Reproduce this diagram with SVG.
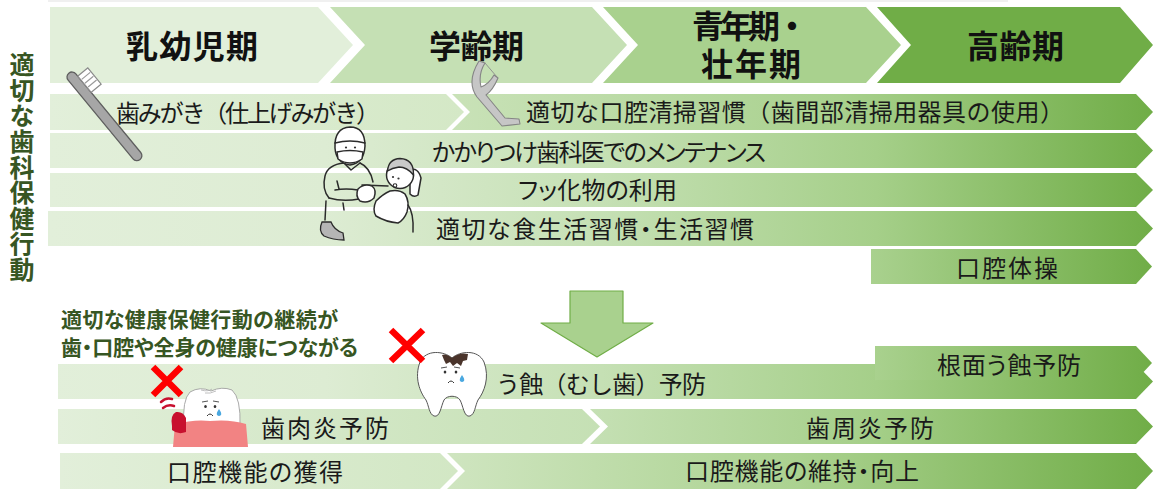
<svg xmlns="http://www.w3.org/2000/svg" width="1154" height="489" viewBox="0 0 1154 489">
<defs>
<style>
text{font-family:"Noto Sans CJK JP","Noto Sans",sans-serif}
.hd{font-size:32px;font-weight:700;fill:#111}
.rt{font-size:24px;fill:#1a1a1a;font-feature-settings:"palt"}
.fw{font-feature-settings:normal}
.gt{font-size:21px;font-weight:700;fill:#375623;font-feature-settings:"palt"}
.vt{font-size:25px;font-weight:700;fill:#375623;writing-mode:vertical-rl}
.ln{fill:none;stroke:#2b2b2b;stroke-width:1.5;stroke-linecap:round;stroke-linejoin:round}
.wf{fill:#fff;stroke:#2b2b2b;stroke-width:1.5;stroke-linejoin:round}
.xm{stroke:#ff0000;stroke-width:6.5;fill:none}
.face{fill:#333}
.tear{fill:#4aa8e0}
</style>
<linearGradient id="gFull" gradientUnits="userSpaceOnUse" x1="50" y1="0" x2="1153" y2="0">
<stop offset="0" stop-color="#e2efda"/><stop offset="0.25" stop-color="#ddecd3"/><stop offset="0.5" stop-color="#c5e0b4"/><stop offset="0.75" stop-color="#a5cf89"/><stop offset="1" stop-color="#70ad47"/>
</linearGradient>
<linearGradient id="gR1L" gradientUnits="userSpaceOnUse" x1="50" y1="0" x2="464" y2="0">
<stop offset="0" stop-color="#e2efda"/><stop offset="1" stop-color="#d4e8c6"/>
</linearGradient>
<linearGradient id="gR1R" gradientUnits="userSpaceOnUse" x1="452" y1="0" x2="1153" y2="0">
<stop offset="0" stop-color="#c9e2b8"/><stop offset="0.55" stop-color="#a9d18e"/><stop offset="1" stop-color="#70ad47"/>
</linearGradient>
<linearGradient id="gShort" x1="0" y1="0" x2="1" y2="0">
<stop offset="0" stop-color="#a9d18e"/><stop offset="1" stop-color="#70ad47"/>
</linearGradient>
<linearGradient id="gBL" gradientUnits="userSpaceOnUse" x1="58" y1="0" x2="600" y2="0">
<stop offset="0" stop-color="#e2efda"/><stop offset="1" stop-color="#c5e0b4"/>
</linearGradient>
<linearGradient id="gBR" gradientUnits="userSpaceOnUse" x1="590" y1="0" x2="1153" y2="0">
<stop offset="0" stop-color="#c5e0b4"/><stop offset="0.5" stop-color="#a5cf89"/><stop offset="1" stop-color="#70ad47"/>
</linearGradient>
<linearGradient id="gCL" gradientUnits="userSpaceOnUse" x1="60" y1="0" x2="458" y2="0">
<stop offset="0" stop-color="#e2efda"/><stop offset="1" stop-color="#d2e7c4"/>
</linearGradient>
<linearGradient id="gCR" gradientUnits="userSpaceOnUse" x1="447" y1="0" x2="1153" y2="0">
<stop offset="0" stop-color="#cfe5c0"/><stop offset="0.5" stop-color="#abd290"/><stop offset="1" stop-color="#70ad47"/>
</linearGradient>
</defs>

<rect x="48" y="0" width="960" height="2" fill="#f0f0f0"/>

<!-- life stage chevrons -->
<g id="stage-infant">
<path d="M50 7H318L353 45L318 83H50Z" fill="#e2efda"/>
<text class="hd" x="126" y="58" textLength="132">乳幼児期</text>
</g>
<g id="stage-school">
<path d="M330 7H592L627 45L592 83H330L365 45Z" fill="#c5e0b4"/>
<text class="hd" x="429" y="58" textLength="95">学齢期</text>
</g>
<g id="stage-adult">
<path d="M603 7H866L901 45L866 83H603L638 45Z" fill="#a9d18e"/>
<text class="hd"><tspan x="692" y="38" textLength="116">青年期・</tspan><tspan x="701" y="76" textLength="100">壮年期</tspan></text>
</g>
<g id="stage-elderly">
<path d="M877 7H1120L1153 45L1120 83H877L911 45Z" fill="#70ad47"/>
<text class="hd" x="967" y="58" textLength="97">高齢期</text>
</g>

<!-- side caption, set vertically -->
<g id="side-caption">
<text class="vt" x="22" y="52" textLength="230">適切な歯科保健行動</text>
</g>

<!-- behaviour bars -->
<g id="bar-brushing">
<path d="M50 94H446L464 112L446 130H50Z" fill="url(#gR1L)"/>
<text class="rt fw" x="116" y="121.5" textLength="264">歯みがき（仕上げみがき）</text>
</g>
<g id="bar-cleaning">
<path d="M452 94H1136L1153 112L1136 130H452L470 112Z" fill="url(#gR1R)"/>
<text class="rt fw" x="526" y="121" textLength="538">適切な口腔清掃習慣（歯間部清掃用器具の使用）</text>
</g>
<g id="bar-dentist">
<path d="M50 133H1136L1153 150.5L1136 168H50Z" fill="url(#gFull)"/>
<text class="rt" x="432" y="160.5" textLength="334">かかりつけ歯科医でのメンテナンス</text>
</g>
<g id="bar-fluoride">
<path d="M50 173H1136L1153 190L1136 207H50Z" fill="url(#gFull)"/>
<text class="rt" x="518" y="199" textLength="159">フッ化物の利用</text>
</g>
<g id="bar-diet">
<path d="M48 211H1136L1153 228.5L1136 246H48Z" fill="url(#gFull)"/>
<text class="rt" x="436" y="238" textLength="318">適切な食生活習慣・生活習慣</text>
</g>
<g id="bar-exercise">
<path d="M871 249H1136L1152 266.5L1136 284H871Z" fill="url(#gShort)"/>
<text class="rt" x="956" y="276.5" textLength="102">口腔体操</text>
</g>

<!-- toothbrush -->
<g id="toothbrush" transform="translate(72 77) rotate(50.5)">
<rect x="-5" y="-5" width="112" height="10" rx="5" fill="#a6a6a6" stroke="#5f5f5f" stroke-width="1.3"/>
<rect x="3" y="-18" width="21" height="13" fill="#fff" stroke="#8a8a8a" stroke-width="1.2"/>
<path d="M8 -17V-6M13 -17V-6M18 -17V-6" stroke="#9a9a9a" stroke-width="1.2"/>
</g>

<!-- floss holder -->
<g id="floss-holder">
<path d="M485 63L497 77" stroke="#8a8a8a" stroke-width="0.9"/>
<path d="M479 61L485 63Q478 74 481 87Q489 84 494 75L498 78Q493 90 486 95L505 118L519 119L520 124L502 126L477 97Q466 82 479 61Z" fill="#c6c6c6" stroke="#858585" stroke-width="1.1" stroke-linejoin="round"/>
</g>

<!-- dentist and child -->
<g id="dentist-visit">
<path class="ln" d="M344 163C334 164 327 168 325 176C323 184 324 192 329 198"/>
<path class="ln" d="M329 198Q343 202 359 199M335 190Q346 188 358 190M337 181L339 189"/>
<path class="ln" d="M360 163C367 166 371 172 373 182"/>
<path class="ln" d="M344 163L351 170L360 163"/>
<path class="ln" d="M326 201L325 220M343 203L344 210"/>
<path d="M322 222Q318 231 324 236Q333 240 344 240L343 233Q334 230 331 222Z" fill="#b5b5b5" stroke="#2b2b2b" stroke-width="1.3"/>
<path class="wf" d="M335 148Q334 128 350 127Q365 127 365 146Q364 163 350 165Q336 163 335 148Z"/>
<path class="ln" d="M335 143Q350 139 365 143"/>
<path class="wf" d="M337 152Q350 149 363 152L362 159Q350 167 338 159Z"/>
<circle class="face" cx="346" cy="147.5" r="1.1"/>
<circle class="face" cx="355" cy="147.5" r="1.1"/>
<path class="ln" d="M362 185L388 186"/>
<path class="wf" d="M358 189Q364 183 372 186Q377 190 374 198Q368 204 360 201Q355 196 358 189Z"/>
<path class="wf" d="M410 170Q418 167 421 178L418 195Q414 198 410 194Z"/>
<path class="wf" d="M376 201Q383 194 390 191Q399 189 405 194Q410 202 407 212Q404 220 398 223Q386 222 376 216Q372 210 376 201Z"/>
<path class="ln" d="M408 205Q414 213 413 232"/>
<circle class="wf" cx="400" cy="175" r="13.5"/>
<path d="M387.5 171Q388.5 159 400 158.5Q414 159 413.5 175Q407 167 399 167Q392 168 387.5 171Z" fill="#c9c9c9" stroke="#2b2b2b" stroke-width="1.3"/>
<circle class="face" cx="393" cy="177" r="1.1"/>
<circle class="face" cx="398.5" cy="178.5" r="1.1"/>
<circle cx="395" cy="185.5" r="1.8" fill="none" stroke="#2b2b2b" stroke-width="1.1"/>
</g>

<!-- outcome caption -->
<g id="outcome-caption">
<text class="gt" x="61" y="326.5" textLength="277">適切な健康保健行動の継続が</text>
<text class="gt" x="61" y="355" textLength="297">歯・口腔や全身の健康につながる</text>
</g>

<g id="connectors">
<path d="M570 291H623V323H653L597 357L541 323H570Z" fill="#a9d18e" stroke="#70ad47" stroke-width="1.2" stroke-linejoin="round"/>
</g>

<!-- prevention bars -->
<g id="bar-caries">
<path d="M58 364H1136L1153 381.5L1136 399H58Z" fill="url(#gFull)"/>
<text class="rt fw" x="496" y="393" textLength="210">う蝕（むし歯）予防</text>
</g>
<g id="bar-root-caries">
<path d="M875 346H1136L1152 363L1136 380H875Z" fill="url(#gShort)"/>
<text class="rt" x="937" y="374" textLength="144">根面う蝕予防</text>
</g>
<g id="bar-gingivitis">
<path d="M58 409H582L600 426.5L582 444H58Z" fill="url(#gBL)"/>
<text class="rt" x="261" y="436.5" textLength="128">歯肉炎予防</text>
</g>
<g id="bar-periodontitis">
<path d="M590 409H1136L1153 426.5L1136 444H590L608 426.5Z" fill="url(#gBR)"/>
<text class="rt" x="806" y="436.5" textLength="128">歯周炎予防</text>
</g>
<g id="bar-function-acquire">
<path d="M60 453H440L458 471L440 489H60Z" fill="url(#gCL)"/>
<text class="rt" x="167" y="480.5" textLength="176">口腔機能の獲得</text>
</g>
<g id="bar-function-maintain">
<path d="M447 453H1136L1153 471L1136 489H447L465 471Z" fill="url(#gCR)"/>
<text class="rt" x="685" y="479.5" textLength="234">口腔機能の維持・向上</text>
</g>

<!-- tooth with inflamed gum -->
<g id="gum-tooth">
<path d="M161 402Q166 397 172 399M163 408Q168 404 174 406" stroke="#c8102e" stroke-width="2.5" fill="none" stroke-linecap="round"/>
<path d="M184 426Q182 400 190 392Q200 386 211 391Q222 386 232 390Q241 398 240 426Z" fill="#fff" stroke="#a0a0a0" stroke-width="0.9"/>
<path d="M201 390Q208 392 212 389M205 393Q210 394 216 391" stroke="#b0b0b0" stroke-width="0.8" fill="none"/>
<path d="M173 447L175 424Q195 419 210 421Q230 419 246 424L248 447Z" fill="#f28383"/>
<path d="M172 426Q170 415 176 412Q183 411 186 418L186 432Q178 435 172 430Z" fill="#c8102e"/>
<path d="M202 402L208 401M213 401L219 402" stroke="#555" stroke-width="1" fill="none"/>
<ellipse class="face" cx="205.5" cy="406.5" rx="1.3" ry="1.6"/>
<ellipse class="face" cx="215" cy="406.5" rx="1.3" ry="1.6"/>
<path d="M207 416Q210 412 213 416" stroke="#333" stroke-width="1" fill="none"/>
<path class="tear" d="M219 409Q222 413 221 415Q219 417 217 415Q216 413 219 409Z"/>
<path class="xm" d="M153 367L181 395M181 367L153 395"/>
</g>

<!-- decayed tooth -->
<g id="decayed-tooth">
<path d="M452 358C460 351 478 349 484 362C490 378 484 392 478 400C475 406 475 414 470 416C464 418 463 405 460 400C457 395 447 395 444 400C441 406 440 418 434 416C429 414 429 406 426 400C420 392 414 378 420 362C426 349 444 351 452 358Z" fill="#fff" stroke="#555" stroke-width="1"/>
<path d="M442 355Q447 353 452 358Q459 352 468 354L467 360L463 361L461 366L457 363L453 366L450 362L446 364L444 360Z" fill="#4a342b"/>
<path d="M441 368L447 367M454 367L460 368" stroke="#555" stroke-width="1" fill="none"/>
<ellipse class="face" cx="445" cy="372" rx="1.3" ry="1.6"/>
<ellipse class="face" cx="456" cy="372" rx="1.3" ry="1.6"/>
<path d="M448 383Q451 379 454 383" stroke="#333" stroke-width="1" fill="none"/>
<path class="tear" d="M462 375Q465 379 464 381Q462 383 460 381Q459 379 462 375Z"/>
<path class="xm" d="M391 330L423 361M423 330L391 361"/>
</g>
</svg>
